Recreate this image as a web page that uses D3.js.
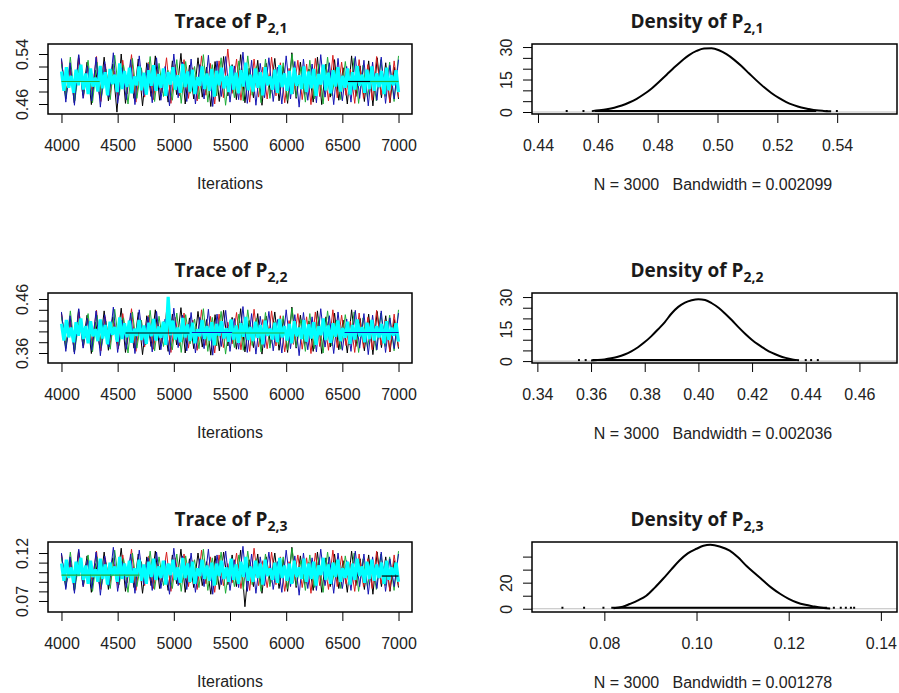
<!DOCTYPE html>
<html>
<head>
<meta charset="utf-8">
<script src="https://cdn.jsdelivr.net/npm/d3@7"></script>
<style>
body { margin: 0; background: #fff; }
svg { display: block; }
</style>
</head>
<body>
<div id="chart"></div>
<script>
//------------------------------ DATA ------------------------------//
// iterations kept: 4000..7000, chains 1..5 (black, red, green, blue, cyan)
const iterTicks = [4000, 4500, 5000, 5500, 6000, 6500, 7000];

// P[2,1] trace (thinned)
const p21Black = [.531,.468,.52,.462,.538,.474,.527,.459,.514,.47,.535,.465,.524,.447,.54,.461,.518,.469,.532,.457,.526,.472,.537,.466,.515,.463,.529,.475,.541,.46,.522,.468,.534,.471,.519,.456,.528,.464,.536,.473,.523,.467,.539,.462,.517,.47,.53,.458,.525,.476,.533,.465,.52,.461,.542,.469,.527,.474,.516,.463,.535,.459,.524,.471,.531,.466,.518,.46,.537,.472,.521,.464,.529,.457,.534,.47,.526,.462,.519,.468];
const p21Red = [.528,.475,.516,.466,.533,.47,.521,.479,.536,.464,.524,.472,.513,.468,.53,.476,.539,.463,.52,.471,.527,.467,.515,.478,.534,.461,.523,.473,.531,.469,.518,.465,.537,.474,.525,.46,.529,.47,.548,.477,.532,.466,.522,.463,.532,.471,.519,.468,.535,.473,.526,.462,.517,.476,.53,.467,.524,.459,.533,.472,.52,.465,.538,.47,.527,.474,.516,.461,.531,.469,.523,.466,.536,.475,.518,.463,.529,.471];
const p21Green = [.524,.471,.535,.465,.519,.476,.53,.462,.527,.47,.516,.467,.538,.474,.522,.46,.533,.469,.518,.475,.536,.464,.525,.472,.514,.466,.531,.461,.528,.477,.52,.468,.539,.463,.523,.473,.534,.458,.517,.47,.529,.465,.537,.474,.521,.462,.532,.469,.515,.476,.526,.466,.54,.471,.519,.463,.53,.468,.524,.46,.535,.473,.518,.467,.528,.475,.533,.461,.522,.47,.516,.465,.531,.472,.527,.464,.537];
const p21Blue = [.533,.463,.526,.458,.539,.469,.521,.465,.535,.455,.528,.471,.542,.461,.518,.467,.531,.459,.537,.473,.524,.462,.534,.466,.52,.457,.54,.47,.527,.464,.532,.46,.523,.468,.538,.456,.529,.472,.536,.463,.521,.467,.543,.461,.53,.458,.525,.47,.534,.464,.519,.46,.537,.468,.528,.455,.532,.466,.524,.462,.539,.471,.526,.459,.533,.465,.52,.463,.536,.469,.53,.457,.527,.466,.535,.461,.522,.468,.531];
const p21Cyan = [.512,.481,.519,.486,.505,.478,.515,.49,.523,.483,.509,.476,.517,.488,.502,.48,.521,.485,.511,.474,.516,.492,.507,.479,.525,.484,.513,.487,.518,.477,.504,.49,.52,.482,.51,.475,.514,.489,.522,.481,.508,.486,.517,.473,.511,.491,.519,.483,.506,.478,.524,.487,.512,.48,.515,.476,.503,.489,.52,.484,.509,.481,.516,.472,.513,.49,.518,.485,.505,.479,.521,.483,.51,.477,.514,.488,.526,.482,.507,.48,.517,.486,.511,.474,.519,.49,.504,.483,.515,.478,.522,.487,.509,.481,.513,.476,.518,.489,.506,.484,.52,.479,.512,.485,.516,.473,.508,.491,.523,.482,.51,.477,.514,.488,.519,.48,.505,.486,.517,.475,.511,.483,.521,.489,.507,.478,.515,.484,.52,.481,.509,.487,.513,.476,.518,.482,.506,.49,.514,.479];
const p21Flat = [[3, 4000, 4340, .496], [1, 6550, 6750, .496], [3, 6750, 7000, .496]];

// P[2,2] trace
const p22Black = [.434,.368,.423,.362,.441,.374,.43,.359,.417,.37,.438,.365,.427,.378,.443,.361,.421,.369,.435,.357,.429,.372,.44,.366,.418,.363,.432,.375,.444,.36,.425,.368,.437,.371,.422,.356,.431,.364,.439,.373,.426,.367,.442,.362,.42,.37,.433,.358,.428,.376,.436,.365,.423,.361,.445,.369,.43,.374,.419,.363,.438,.359,.427,.371,.434,.366,.421,.36,.44,.372,.424,.364,.432,.357,.437,.37,.429,.362,.422,.368];
const p22Red = [.431,.375,.419,.366,.436,.37,.424,.379,.439,.364,.427,.372,.416,.368,.433,.376,.442,.363,.423,.371,.43,.367,.418,.378,.437,.361,.426,.373,.434,.369,.421,.365,.44,.374,.428,.36,.432,.37,.417,.377,.435,.366,.425,.363,.441,.371,.422,.368,.438,.373,.429,.362,.42,.376,.433,.367,.427,.359,.436,.372,.423,.365,.44,.37,.43,.374,.419,.361,.434,.369,.426,.366,.439,.375,.421,.363,.432,.371];
const p22Green = [.427,.371,.438,.365,.422,.376,.433,.362,.43,.37,.419,.367,.441,.374,.425,.36,.436,.369,.421,.375,.439,.364,.428,.372,.417,.366,.434,.361,.431,.377,.423,.368,.442,.363,.426,.373,.437,.358,.42,.37,.432,.365,.44,.374,.424,.362,.435,.369,.418,.376,.429,.366,.443,.371,.422,.363,.433,.368,.427,.36,.438,.373,.421,.367,.431,.375,.436,.361,.425,.37,.419,.365,.434,.372,.43,.364,.44];
const p22Blue = [.436,.363,.429,.358,.442,.369,.424,.365,.438,.355,.431,.371,.445,.361,.421,.367,.434,.359,.44,.373,.427,.362,.437,.366,.423,.357,.443,.37,.43,.364,.435,.36,.426,.368,.441,.356,.432,.372,.439,.363,.424,.367,.446,.361,.433,.358,.428,.37,.437,.364,.422,.36,.44,.368,.431,.355,.435,.366,.427,.362,.442,.371,.429,.359,.436,.365,.423,.363,.439,.369,.433,.357,.43,.366,.438,.361,.425,.368,.434];
const p22Cyan = [.414,.383,.421,.389,.407,.38,.417,.392,.424,.386,.41,.378,.419,.391,.404,.382,.422,.387,.412,.376,.418,.394,.408,.381,.426,.386,.415,.389,.42,.379,.405,.392,.421,.384,.411,.377,.416,.391,.423,.383,.409,.388,.418,.375,.464,.393,.42,.385,.407,.38,.425,.389,.413,.382,.416,.378,.404,.391,.421,.386,.41,.383,.417,.374,.414,.392,.419,.387,.406,.381,.422,.385,.411,.379,.415,.39,.427,.384,.408,.382,.418,.388,.412,.376,.42,.392,.405,.385,.416,.38,.423,.389,.41,.383,.414,.378,.419,.391,.407,.386,.421,.381,.413,.387,.417,.375,.409,.393,.424,.384,.411,.379,.415,.39,.42,.382,.406,.388,.418,.377,.412,.385,.422,.391,.408,.38,.416,.386,.421,.383,.41,.389,.414,.378,.419,.384,.407,.392,.415,.381];
const p22Flat = [[1, 4570, 5140, .397], [4, 5160, 5520, .398], [3, 5520, 5985, .397], [4, 6520, 7000, .398]];

// P[2,3] trace
const p23Black = [.119,.084,.113,.081,.123,.087,.117,.079,.109,.085,.121,.082,.115,.089,.125,.08,.112,.084,.119,.078,.116,.086,.122,.083,.11,.081,.118,.088,.124,.079,.114,.084,.12,.086,.111,.077,.117,.082,.121,.087,.118,.085,.123,.064,.113,.085,.119,.078,.116,.088,.12,.083,.113,.08,.126,.084,.117,.087,.11,.081,.121,.079,.115,.085,.119,.083,.112,.079,.122,.086,.114,.082,.118,.077,.121,.085,.116,.08,.112,.084];
const p23Red = [.117,.088,.111,.083,.12,.085,.114,.09,.122,.082,.115,.087,.108,.084,.118,.089,.124,.081,.113,.086,.117,.083,.109,.09,.121,.08,.115,.087,.119,.085,.112,.082,.123,.088,.116,.079,.118,.086,.109,.089,.12,.083,.114,.081,.125,.086,.112,.084,.121,.087,.116,.08,.111,.089,.118,.084,.115,.078,.12,.086,.113,.082,.123,.085,.117,.088,.11,.08,.119,.085,.114,.083,.122,.088,.112,.081,.118,.086];
const p23Green = [.115,.086,.121,.082,.112,.088,.118,.08,.116,.085,.11,.083,.123,.087,.114,.079,.12,.085,.111,.088,.122,.082,.116,.086,.109,.083,.119,.08,.117,.089,.113,.084,.124,.081,.115,.087,.121,.078,.111,.085,.118,.082,.122,.087,.114,.08,.119,.085,.11,.088,.116,.083,.125,.086,.112,.081,.118,.084,.115,.079,.121,.087,.112,.083,.117,.088,.12,.08,.114,.085,.111,.082,.119,.086,.116,.081,.122];
const p23Blue = [.12,.082,.116,.078,.124,.085,.113,.083,.121,.076,.117,.086,.126,.08,.111,.084,.119,.078,.123,.087,.115,.081,.121,.083,.112,.077,.125,.086,.117,.082,.12,.079,.114,.085,.124,.077,.118,.087,.122,.081,.113,.084,.127,.08,.119,.078,.116,.086,.121,.082,.111,.079,.123,.085,.117,.076,.12,.083,.115,.081,.124,.086,.116,.078,.12,.083,.112,.081,.122,.085,.119,.077,.116,.083,.121,.08,.114,.085,.119];
const p23Cyan = [.109,.091,.113,.094,.105,.089,.111,.096,.115,.092,.107,.088,.112,.095,.103,.09,.114,.093,.108,.087,.11,.097,.106,.09,.116,.093,.109,.095,.112,.089,.104,.096,.113,.091,.108,.088,.111,.095,.114,.092,.106,.094,.112,.087,.109,.097,.113,.092,.105,.089,.115,.094,.109,.09,.111,.088,.104,.096,.113,.093,.107,.091,.11,.086,.109,.096,.112,.093,.105,.09,.114,.092,.108,.088,.111,.095,.116,.091,.106,.09,.112,.094,.109,.087,.113,.096,.104,.092,.11,.089,.115,.094,.107,.091,.109,.088,.112,.095,.105,.093,.114,.09,.109,.093,.111,.086,.107,.097,.115,.092,.108,.088,.11,.095,.113,.09,.104,.094,.111,.087,.109,.092,.114,.096,.106,.089,.111,.093,.113,.091,.108,.094,.11,.088,.112,.092,.105,.096,.11,.09];
const p23Flat = [[3, 4000, 4695, .097], [1, 6850, 7000, .096]];

// densities (x, density)
const d21X = [.458,.4605,.463,.4655,.468,.4705,.473,.4755,.478,.4805,.483,.4855,.488,.4905,.493,.4955,.498,.5005,.503,.5055,.508,.5105,.513,.5155,.518,.5205,.523,.5255,.528,.5305,.533,.5355,.538];
const d21Y = [0.4,0.8,1.3,2.0,3.0,4.4,6.1,8.3,10.9,14.0,17.2,20.5,23.6,26.3,28.2,29.3,29.4,28.5,26.7,24.2,21.2,17.9,14.6,11.5,8.8,6.5,4.6,3.2,2.1,1.4,0.8,0.5,0.3];
const d22X = [.36,.3625,.365,.3675,.37,.3725,.375,.3775,.38,.3825,.385,.3875,.39,.3925,.395,.3975,.4,.4025,.405,.4075,.41,.4125,.415,.4175,.42,.4225,.425,.4275,.43,.4325,.435,.4375];
const d22Y = [0.3,0.5,0.8,1.3,2.0,3.1,4.6,6.5,8.9,11.7,14.9,18.3,22.3,25.4,27.4,28.5,29.0,28.6,27.1,25.0,22.2,19.1,15.8,12.7,9.9,7.6,5.5,3.8,2.5,1.5,0.8,0.4];
const d23X = [.082,.084,.0855,.0873,.0891,.0909,.0927,.0945,.0963,.0981,.1,.1015,.103,.105,.1072,.109,.1108,.1127,.1145,.1163,.1182,.12,.1218,.1236,.1254,.1276,.129];
const d23Y = [0.3,1.5,3.6,6.4,10,16,22.8,30,37,42.5,46,48.3,49,47.8,44.6,39.5,33,27,21.5,16,11.3,7.6,4.8,3.0,1.8,0.6,0.2];

// observation rug: dense stretch and sparse outlying draws
const obs21Range = [.459, .533];
const obs21Sparse = [.4496, .4552, .4607, .5365, .5399];
const obs22Range = [.3605, .4364];
const obs22Sparse = [.3555, .358, .4400, .4420, .4445];
const obs23Range = [.0815, .1283];
const obs23Sparse = [.0709, .0756, .0798, .1298, .1313, .1324, .1335, .1342];

const bandwidths = ["0.002099", "0.002036", "0.001278"];
const subs = ["2,1", "2,2", "2,3"];

//------------------------------ SVG -------------------------------//
const width = 899;
const height = 693;
const svg = d3.select("#chart").append("svg")
    .attr("width", width)
    .attr("height", height)
    .style("background", "#fff");

const rowTop = [44, 293, 542];
const boxH = 70;
const chainColours = ["#000000", "#d81e1e", "#1fae3a", "#1515b4", "#00ffff"];
const tickFont = "'Liberation Sans', Arial, sans-serif";
const titleFont = "'Open Sans', 'DejaVu Sans', sans-serif";

function near(a, b) { return Math.abs(a - b) < 1e-9; }

function title(x, y, word, sub) {
    const t = svg.append("text")
        .attr("x", x).attr("y", y)
        .attr("text-anchor", "middle")
        .style("font-family", titleFont)
        .style("font-weight", "700")
        .style("font-size", "19px")
        .attr("fill", "#1a1a1a")
        .text(word + " of P");
    t.append("tspan")
        .attr("dy", 5)
        .style("font-size", "14px")
        .text(sub);
}

function styleAxis(g) {
    g.select(".domain").remove();
    g.selectAll("line").attr("stroke", "#000").attr("stroke-width", 1);
    g.selectAll("text")
        .style("font-family", tickFont)
        .style("font-size", "16px")
        .attr("fill", "#222");
}

function yAxis(left, y, ticks, labels, fmt) {
    const g = svg.append("g")
        .attr("transform", "translate(" + left + ",0)")
        .call(d3.axisLeft(y).tickValues(ticks).tickSize(9)
            .tickFormat(d => labels.some(l => near(l, d)) ? fmt(d) : ""));
    styleAxis(g);
    g.selectAll("text")
        .attr("x", null).attr("dy", null)
        .attr("text-anchor", "middle")
        .attr("transform", "translate(-20,0) rotate(-90)");
}

function xAxis(bottom, x, ticks, fmt) {
    const g = svg.append("g")
        .attr("transform", "translate(0," + bottom + ")")
        .call(d3.axisBottom(x).tickValues(ticks).tickSize(9).tickPadding(17).tickFormat(fmt));
    styleAxis(g);
}

function box(x0, x1, top) {
    svg.append("rect")
        .attr("x", x0).attr("y", top)
        .attr("width", x1 - x0).attr("height", boxH)
        .attr("fill", "none")
        .attr("stroke", "#000")
        .attr("stroke-width", 1.5);
}

//----------------------------- TRACES -----------------------------//
function drawTrace(row, chains, flats, yDomain, yTicks, yLabels) {
    const top = rowTop[row], bottom = top + boxH;
    const x = d3.scaleLinear().domain([3880, 7120]).range([48, 412]);
    const y = d3.scaleLinear().domain(yDomain).range([bottom, top]);
    const first = iterTicks[0], last = iterTicks[iterTicks.length - 1];

    chains.forEach(function(vals, i) {
        const step = (last - first) / (vals.length - 1);
        const line = d3.line()
            .x((d, j) => x(first + j * step))
            .y(d => y(d));
        svg.append("path")
            .attr("fill", "none")
            .attr("stroke", chainColours[i])
            .attr("stroke-width", i === 4 ? 3.2 : 1)
            .attr("stroke-linejoin", "bevel")
            .attr("d", line(vals));
    });

    flats.forEach(function(f) {
        svg.append("line")
            .attr("x1", x(f[1])).attr("x2", x(f[2]))
            .attr("y1", y(f[3])).attr("y2", y(f[3]))
            .attr("stroke", chainColours[f[0] - 1])
            .attr("stroke-width", 1.2);
    });

    box(48, 412, top);
    xAxis(bottom, x, iterTicks, d3.format("d"));
    yAxis(48, y, yTicks, yLabels, d3.format(".2f"));
    title(231, top - 16, "Trace", subs[row]);

    svg.append("text")
        .attr("x", 230).attr("y", bottom + 75)
        .attr("text-anchor", "middle")
        .style("font-family", tickFont)
        .style("font-size", "16px")
        .attr("fill", "#222")
        .text("Iterations");
}

//---------------------------- DENSITIES ---------------------------//
function drawDensity(row, xs, ys, obsRange, obsSparse, xDomain, yDomain, xTicks, yTicks, yLabels) {
    const top = rowTop[row], bottom = top + boxH;
    const x0 = 532, x1 = 897;
    const x = d3.scaleLinear().domain(xDomain).range([x0, x1]);
    const y = d3.scaleLinear().domain(yDomain).range([bottom, top]);

    // zero line
    svg.append("line")
        .attr("x1", x0).attr("x2", x1)
        .attr("y1", y(0)).attr("y2", y(0))
        .attr("stroke", "#bebebe").attr("stroke-width", 1.2);

    // observations
    svg.append("line")
        .attr("x1", x(obsRange[0])).attr("x2", x(obsRange[1]))
        .attr("y1", y(0) - 1).attr("y2", y(0) - 1)
        .attr("stroke", "#000").attr("stroke-width", 2);
    svg.selectAll(null).data(obsSparse).enter().append("rect")
        .attr("x", d => x(d) - 1).attr("y", y(0) - 2)
        .attr("width", 2).attr("height", 2)
        .attr("fill", "#000");

    const line = d3.line()
        .x((d, i) => x(xs[i]))
        .y(d => y(d))
        .curve(d3.curveMonotoneX);
    svg.append("path")
        .attr("fill", "none")
        .attr("stroke", "#000")
        .attr("stroke-width", 2)
        .attr("d", line(ys));

    box(x0, x1, top);
    xAxis(bottom, x, xTicks, d3.format(".2f"));
    yAxis(x0, y, yTicks, yLabels, d3.format("d"));
    title(697, top - 16, "Density", subs[row]);

    svg.append("text")
        .attr("x", 713).attr("y", bottom + 76)
        .attr("text-anchor", "middle")
        .style("font-family", tickFont)
        .style("font-size", "16px")
        .style("white-space", "pre")
        .attr("fill", "#222")
        .text("N = 3000   Bandwidth = " + bandwidths[row]);
}

drawTrace(0, [p21Black, p21Red, p21Green, p21Blue, p21Cyan], p21Flat,
    [0.444, 0.556], [.46, .48, .50, .52, .54], [.46, .54]);
drawTrace(1, [p22Black, p22Red, p22Green, p22Blue, p22Cyan], p22Flat,
    [0.3415, 0.4711], [.36, .38, .40, .42, .44, .46], [.36, .46]);
drawTrace(2, [p23Black, p23Red, p23Green, p23Blue, p23Cyan], p23Flat,
    [0.0585, 0.1315], [.07, .08, .09, .10, .11, .12], [.07, .12]);

drawDensity(0, d21X, d21Y, obs21Range, obs21Sparse, [0.438, 0.560],
    [-0.92, 31.4], [.44, .46, .48, .50, .52, .54], [0, 5, 10, 15, 20, 25, 30], [0, 15, 30]);
drawDensity(1, d22X, d22Y, obs22Range, obs22Sparse, [0.338, 0.474],
    [-0.9, 31.9], [.34, .36, .38, .40, .42, .44, .46], [0, 5, 10, 15, 20, 25, 30], [0, 15, 30]);
drawDensity(2, d23X, d23Y, obs23Range, obs23Sparse, [0.0643, 0.1435],
    [-2.5, 51.2], [.08, .10, .12, .14], [0, 10, 20, 30, 40], [0, 20]);
</script>
</body>
</html>
